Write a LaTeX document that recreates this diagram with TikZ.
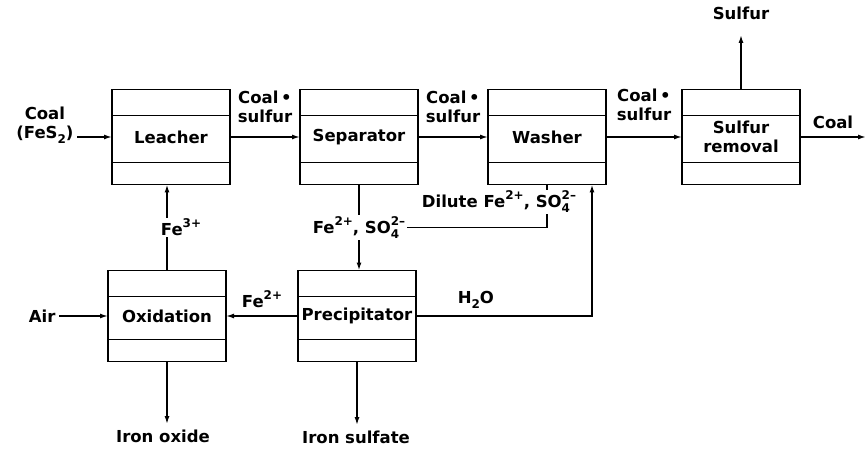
\documentclass[tikz,border=0pt]{standalone}
\usepackage{fontspec}
\setmainfont{DejaVu Sans}
\usetikzlibrary{arrows.meta}
\newcommand{\ionup}[1]{\raisebox{0.5em}{\fontsize{12}{12}\selectfont #1}}
\newcommand{\iondn}[1]{\raisebox{-0.3em}{\fontsize{12}{12}\selectfont #1}}
\newcommand{\ionud}[2]{\rlap{\iondn{#1}}\ionup{#2}}
\newcommand{\ferr}[1]{Fe\ionup{#1}}
\newcommand{\sulf}{SO\ionud{4}{2--}}

\begin{document}
\begin{tikzpicture}[x=1pt, y=-1pt, >={Latex[length=8pt,width=5pt]},
  every node/.style={font=\fontsize{16.5}{19}\selectfont\bfseries},
  unit/.style={draw, line width=1.8pt, inner sep=0pt, outer sep=0pt,
    minimum width=118pt, minimum height=#1, align=center,
    path picture={
      \draw[line width=1.6pt] ([yshift=-26pt]path picture bounding box.north west)
        -- ([yshift=-26pt]path picture bounding box.north east);
      \draw[line width=1.6pt] ([yshift=22pt]path picture bounding box.south west)
        -- ([yshift=22pt]path picture bounding box.south east);
    }},
  flow/.style={line width=1.5pt, ->},
  line/.style={line width=1.5pt},
  tag/.style={fill=white, inner sep=1pt}]

\useasboundingbox (0,0) rectangle (867,449);

% --- Process units ---
\node[unit=95pt] (leacher)   at (171,137) {Leacher};
\node[unit=95pt] (separator) at (359,137) {Separator};
\node[unit=95pt] (washer)    at (547,137) {Washer};
\node[unit=95pt] (sulrem)    at (741,137) {Sulfur\\removal};
\node[unit=91pt] (oxid)      at (167,316) {Oxidation};
\node[unit=91pt] (precip)    at (357,316) {Precipitator};

% --- Feeds and products ---
\node[align=center, anchor=east] (coallab) at (77,125) {Coal\\(FeS\iondn{2})};
\node[anchor=east] (airlab) at (59,316) {Air};
\node (sulfurlab) at (741,13) {Sulfur};
\node (ironox)    at (163,436) {Iron oxide};
\node (ironsulf)  at (356,437) {Iron sulfate};
\coordinate (coalout) at (866,137);

% --- Main coal line ---
\draw[flow] (coallab.east |- leacher.west) -- (leacher.west);
\draw[flow] (leacher.east) -- node (cs1)[above=10pt, align=center] {Coal\,•\\sulfur} (separator.west);
\draw[flow] (separator.east) -- node (cs2)[above=10pt, align=center] {Coal\,•\\sulfur} (washer.west);
\draw[flow] (washer.east) -- node (cs3)[above=12pt, align=center] {Coal\,•\\sulfur} (sulrem.west);
\draw[flow] (sulrem.east) -- node (coallab2)[above=4pt] {Coal} (coalout);
\draw[flow] (sulrem.north) -- ([yshift=-12pt]sulfurlab.south);

% --- Iron loop ---
\draw[flow] (separator.south) -- node (fesolab)[tag] {\ferr{2+}, \sulf} (separator.south |- precip.north);
\draw[line] (washer.south) |- node (dillab)[tag, pos=0.2, xshift=-48pt] {Dilute \ferr{2+}, \sulf} (fesolab.east);
\draw[flow] (precip.east) -| node (h2olab)[pos=0.17, above=3pt] {H\iondn{2}O} ([xshift=45pt]washer.south);
\draw[flow] (precip.west) -- node (fe2lab)[above=4pt] {\ferr{2+}} (oxid.east);
\draw[flow] (oxid.north) -- node (fe3lab)[tag, xshift=14pt] {\ferr{3+}} (oxid.north |- leacher.south);
\draw[flow] (airlab.east) -- (oxid.west);

% --- Solid products ---
\draw[flow] (oxid.south) -- ([yshift=2pt]oxid.south |- ironox.north);
\draw[flow] (precip.south) -- ([yshift=2pt]precip.south |- ironsulf.north);

\end{tikzpicture}
\end{document}
